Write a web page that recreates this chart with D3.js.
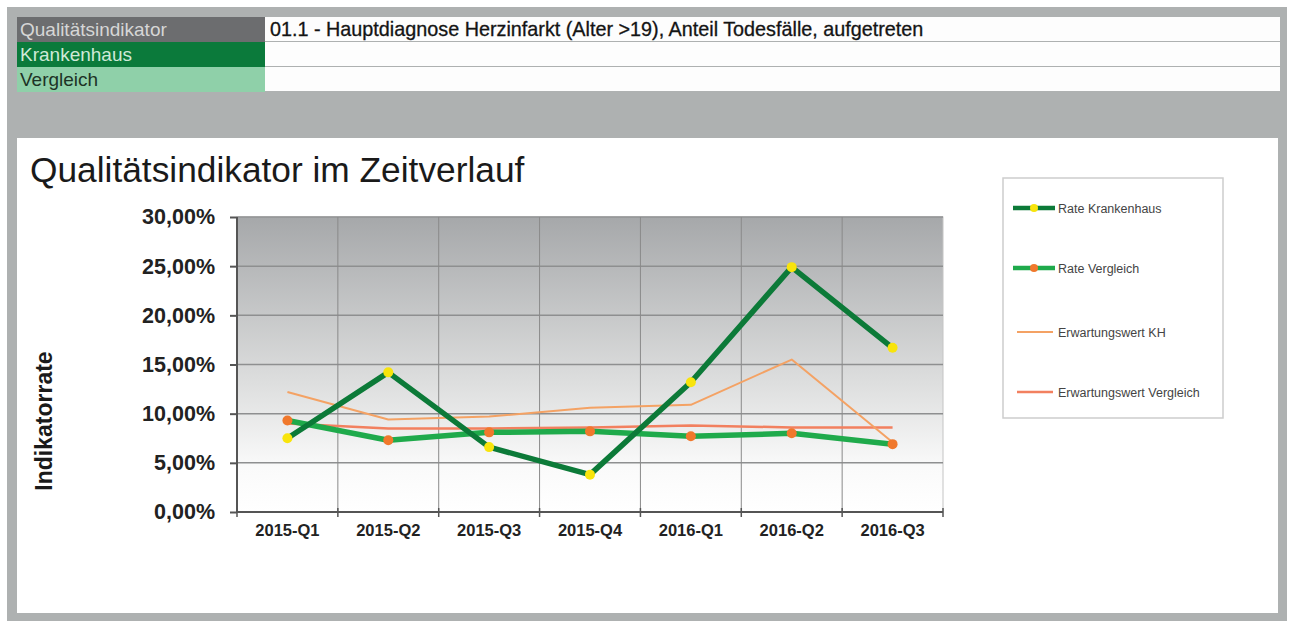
<!DOCTYPE html>
<html lang="de">
    <head>
	<meta charset="utf-8">
	<title>Qualitätsindikator im Zeitverlauf</title>
	<script src="https://d3js.org/d3.v7.min.js" charset="utf-8"></script>
	<style>
	 body {
	     margin: 0;
	     background: #ffffff;
	 }
	 svg text {
	     font-family: "Liberation Sans", Arial, sans-serif;
	 }
	</style>
    </head>
    <body>
	<script type="text/javascript">

	 //Data
	 var quarters = ["2015-Q1", "2015-Q2", "2015-Q3", "2015-Q4", "2016-Q1", "2016-Q2", "2016-Q3"];
	 var rateKH = [7.5, 14.2, 6.6, 3.8, 13.2, 24.9, 16.7];
	 var rateVgl = [9.3, 7.3, 8.1, 8.2, 7.7, 8.0, 6.9];
	 var erwKH = [12.2, 9.4, 9.7, 10.6, 10.9, 15.5, 7.1];
	 var erwVgl = [9.0, 8.5, 8.5, 8.6, 8.8, 8.6, 8.6];
	 var yTicks = [0, 5, 10, 15, 20, 25, 30];

	 var headerLabels = ["Qualitätsindikator", "Krankenhaus", "Vergleich"];
	 var headerValues = ["01.1 - Hauptdiagnose Herzinfarkt (Alter >19), Anteil Todesfälle, aufgetreten", "", ""];
	 var legendNames = ["Rate Krankenhaus", "Rate Vergleich", "Erwartungswert KH", "Erwartungswert Vergleich"];

	 //Display specifications
	 var W = 1290, H = 621;
	 var plot = {left: 237, right: 943, top: 217, bottom: 512};

	 var svg = d3.select("body")
		     .append("svg")
		     .attr("width", W)
		     .attr("height", H);

	 //Outer frame
	 svg.append("rect")
	    .attr("x", 7).attr("y", 7)
	    .attr("width", 1280).attr("height", 614)
	    .style("fill", "#aeb1b1");

	 //Header table
	 var rowH = 25;
	 var labelFill = ["#6c6d6f", "#0b7a3b", "#8fd0a9"];
	 var labelColor = ["#d6d6d6", "#cfe9d8", "#1d3326"];
	 var header = svg.append("g").attr("transform", "translate(17,17)");

	 header.selectAll(".val")
	       .data(headerValues)
	       .enter()
	       .append("rect")
	       .attr("x", 248)
	       .attr("y", function (d, i) { return i * rowH; })
	       .attr("width", 1015)
	       .attr("height", rowH - 1)
	       .style("fill", "#fdfdfd");

	 header.selectAll(".lab")
	       .data(headerLabels)
	       .enter()
	       .append("rect")
	       .attr("x", 0)
	       .attr("y", function (d, i) { return i * rowH; })
	       .attr("width", 248)
	       .attr("height", rowH)
	       .style("fill", function (d, i) { return labelFill[i]; });

	 header.selectAll(".labtxt")
	       .data(headerLabels)
	       .enter()
	       .append("text")
	       .attr("x", 3)
	       .attr("y", function (d, i) { return i * rowH + 19; })
	       .attr("font-size", "19px")
	       .style("fill", function (d, i) { return labelColor[i]; })
	       .text(function (d) { return d; });

	 header.selectAll(".valtxt")
	       .data(headerValues)
	       .enter()
	       .append("text")
	       .attr("x", 253)
	       .attr("y", function (d, i) { return i * rowH + 19; })
	       .attr("font-size", "19.8px")
	       .style("fill", "#141414")
	       .style("stroke", "#141414")
	       .style("stroke-width", 0.3)
	       .text(function (d) { return d; });

	 //Chart panel
	 svg.append("rect")
	    .attr("x", 17).attr("y", 138)
	    .attr("width", 1261).attr("height", 475)
	    .style("fill", "#ffffff");

	 svg.append("text")
	    .attr("x", 30)
	    .attr("y", 182)
	    .attr("font-size", "35.3px")
	    .style("fill", "#1a1a1a")
	    .text("Qualitätsindikator im Zeitverlauf");

	 //Scales
	 var xScale = d3.scaleBand()
			.domain(quarters)
			.range([plot.left, plot.right]);

	 var yScale = d3.scaleLinear()
			.domain([0, 30])
			.range([plot.bottom, plot.top]);

	 var cx = function (i) { return xScale(quarters[i]) + xScale.bandwidth() / 2; };

	 //German number format
	 var de = d3.formatLocale({decimal: ",", thousands: ".", grouping: [3], currency: ["", " €"]});
	 var fp = function (d) { return de.format(".2f")(d) + "%"; };

	 //Plot background gradient
	 var grad = svg.append("defs")
		       .append("linearGradient")
		       .attr("id", "bg")
		       .attr("x1", 0).attr("y1", 0)
		       .attr("x2", 0).attr("y2", 1);
	 grad.append("stop").attr("offset", "0").attr("stop-color", "#a6a8aa");
	 grad.append("stop").attr("offset", "0.55").attr("stop-color", "#dcdddd");
	 grad.append("stop").attr("offset", "0.85").attr("stop-color", "#fafafa");
	 grad.append("stop").attr("offset", "1").attr("stop-color", "#ffffff");

	 svg.append("rect")
	    .attr("x", plot.left).attr("y", plot.top)
	    .attr("width", plot.right - plot.left)
	    .attr("height", plot.bottom - plot.top)
	    .style("fill", "url(#bg)")
	    .style("stroke", "#c4c4c4")
	    .style("stroke-width", 1);

	 //Horizontal gridlines
	 svg.append("g")
	    .selectAll("line")
	    .data(yTicks.slice(1))
	    .enter()
	    .append("line")
	    .attr("x1", plot.left).attr("x2", plot.right)
	    .attr("y1", function (d) { return yScale(d); })
	    .attr("y2", function (d) { return yScale(d); })
	    .style("stroke", "#8e8f90")
	    .style("stroke-width", 1.5);

	 //Vertical gridlines
	 svg.append("g")
	    .selectAll("line")
	    .data(quarters.slice(1))
	    .enter()
	    .append("line")
	    .attr("x1", function (d) { return xScale(d); })
	    .attr("x2", function (d) { return xScale(d); })
	    .attr("y1", plot.top).attr("y2", plot.bottom)
	    .style("stroke", "#8a8a8a")
	    .style("stroke-width", 1);

	 //Y axis
	 var yAxis = svg.append("g")
			.attr("transform", "translate(" + plot.left + ",0)")
			.call(d3.axisLeft(yScale)
				.tickValues(yTicks)
				.tickSize(7)
				.tickPadding(15)
				.tickFormat(fp));
	 yAxis.selectAll("text")
	      .attr("font-size", "21.5px")
	      .attr("font-weight", "bold")
	      .attr("font-family", "Liberation Sans, Arial, sans-serif")
	      .style("fill", "#222");
	 yAxis.selectAll("line, path").style("stroke", "#555").style("stroke-width", 2);
	 yAxis.select("path").attr("d", "M0," + plot.top + "V" + plot.bottom);

	 //X axis
	 var xAxis = svg.append("g")
			.attr("transform", "translate(0," + plot.bottom + ")")
			.call(d3.axisBottom(xScale)
				.tickSize(0)
				.tickPadding(12));
	 xAxis.selectAll("text")
	      .attr("font-size", "16.5px")
	      .attr("font-weight", "bold")
	      .attr("font-family", "Liberation Sans, Arial, sans-serif")
	      .style("fill", "#222");
	 xAxis.select("path").attr("d", "M" + plot.left + ",0H" + plot.right)
	      .style("stroke", "#555").style("stroke-width", 2);
	 xAxis.selectAll(".sep")
	      .data(quarters.concat(["end"]))
	      .enter()
	      .append("line")
	      .attr("x1", function (d, i) { return i < quarters.length ? xScale(d) : plot.right; })
	      .attr("x2", function (d, i) { return i < quarters.length ? xScale(d) : plot.right; })
	      .attr("y1", -4).attr("y2", 5)
	      .style("stroke", "#555")
	      .style("stroke-width", 1.5);

	 //Y axis title
	 svg.append("text")
	    .attr("transform", "translate(52,421) rotate(-90)")
	    .attr("text-anchor", "middle")
	    .attr("font-size", "23px")
	    .attr("font-weight", "bold")
	    .style("fill", "#1a1a1a")
	    .text("Indikatorrate");

	 //Lines
	 var line = d3.line()
		      .x(function (d, i) { return cx(i); })
		      .y(function (d) { return yScale(d); });

	 var series = [
	     {values: erwVgl, color: "#f2805f", width: 2.5},
	     {values: erwKH, color: "#f4a264", width: 2},
	     {values: rateVgl, color: "#1faa4b", width: 5.5, marker: "#f0782c"},
	     {values: rateKH, color: "#0c7a38", width: 5.5, marker: "#f8e40c"}
	 ];

	 series.forEach(function (s) {
	     svg.append("path")
		.datum(s.values)
		.attr("d", line)
		.style("fill", "none")
		.style("stroke", s.color)
		.style("stroke-width", s.width)
		.style("stroke-linejoin", "round");
	 });

	 series.forEach(function (s) {
	     if (!s.marker) return;
	     svg.append("g")
		.selectAll("circle")
		.data(s.values)
		.enter()
		.append("circle")
		.attr("cx", function (d, i) { return cx(i); })
		.attr("cy", function (d) { return yScale(d); })
		.attr("r", 5)
		.style("fill", s.marker);
	 });

	 //Legend
	 var leg = svg.append("g").attr("transform", "translate(1003,178)");
	 leg.append("rect")
	    .attr("width", 220).attr("height", 240)
	    .style("fill", "#ffffff")
	    .style("stroke", "#cdcdcd")
	    .style("stroke-width", 1.5);

	 var legStyle = [
	     {color: "#0c7a38", width: 4.5, marker: "#f8e40c", x1: 10, x2: 52},
	     {color: "#1faa4b", width: 4.5, marker: "#f0782c", x1: 10, x2: 52},
	     {color: "#f4a264", width: 2, x1: 14, x2: 50},
	     {color: "#f2805f", width: 2.5, x1: 14, x2: 50}
	 ];
	 var legY = [30, 90, 154, 214];

	 var items = leg.selectAll(".item")
			.data(legendNames)
			.enter()
			.append("g")
			.attr("transform", function (d, i) { return "translate(0," + legY[i] + ")"; });

	 items.append("line")
	      .attr("x1", function (d, i) { return legStyle[i].x1; })
	      .attr("x2", function (d, i) { return legStyle[i].x2; })
	      .style("stroke", function (d, i) { return legStyle[i].color; })
	      .style("stroke-width", function (d, i) { return legStyle[i].width; });

	 items.filter(function (d, i) { return legStyle[i].marker; })
	      .append("circle")
	      .attr("cx", 31)
	      .attr("r", 4)
	      .style("fill", function (d) { return legStyle[legendNames.indexOf(d)].marker; });

	 items.append("text")
	      .attr("x", 55)
	      .attr("y", 4.5)
	      .attr("font-size", "12.5px")
	      .style("fill", "#444")
	      .text(function (d) { return d; });

	</script>
    </body>
</html>
